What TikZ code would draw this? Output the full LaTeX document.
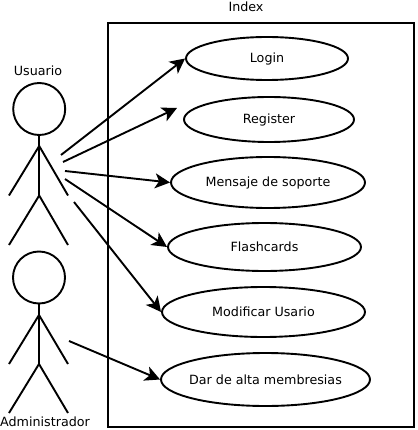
\documentclass[tikz,border=0pt]{standalone}
\usepackage{fontspec}
\setmainfont{DejaVu Sans}
\usetikzlibrary{arrows.meta,shapes.geometric}
\tikzset{
  usecase/.style={draw=black,line width=1.9pt,ellipse,inner sep=0pt,font=\fontsize{12.7}{15}\selectfont},
  lbl/.style={inner sep=0pt,font=\fontsize{12.7}{15}\selectfont},
  headc/.style={draw=black,line width=1.9pt,circle,inner sep=0pt,minimum size=52pt},
  limb/.style={draw=black,line width=1.9pt},
  assoc/.style={draw=black,line width=1.9pt,-{Stealth[length=15pt,width=15pt,inset=4pt]}},
  sysbox/.style={draw=black,line width=2pt}
}
\begin{document}
\begin{tikzpicture}[x=1pt,y=-1pt]
\useasboundingbox (0,0) rectangle (417,430);
\fill[white] (0,0) rectangle (417,430);
\node[sysbox,minimum width=306pt,minimum height=403pt,inner sep=0pt] (sys) at (260.5,225) {};
\node[lbl] (idx) at (246,7) {Index};
\node[lbl] (u) at (38,70.5) {Usuario};
\node[lbl] (ad) at (45,422) {Administrador};
\node[usecase,minimum width=162pt,minimum height=43pt] (login) at (267,58.5) {\makebox[0pt]{Login}};
\node[usecase,minimum width=170pt,minimum height=45pt] (reg) at (269,119.5) {\makebox[0pt]{Register}};
\node[usecase,minimum width=194pt,minimum height=51pt] (msg) at (268,182.5) {\makebox[0pt]{Mensaje de soporte}};
\node[usecase,minimum width=193pt,minimum height=48pt] (fla) at (264.5,247) {\makebox[0pt]{Flashcards}};
\node[usecase,minimum width=203pt,minimum height=50pt] (mod) at (263.5,312) {\makebox[0pt]{Modificar Usario}};
\node[usecase,minimum width=209pt,minimum height=53pt] (dar) at (265.5,379.5) {\makebox[0pt]{Dar de alta membresias}};
% actor 1
\node[headc] (h1) at (39.2,109) {};
\coordinate (hip1) at (39.2,195.5);
\coordinate (sh1) at (39.2,146);
\coordinate (la1) at (9,195.5);
\coordinate (ra1) at (68,195.5);
\coordinate (lf1) at (9,245);
\coordinate (rf1) at (68,245);
\draw[limb] (h1.south) -- (hip1);
\draw[limb] (la1) -- (sh1) -- (ra1);
\draw[limb] (lf1) -- (hip1) -- (rf1);
% actor 2
\node[headc] (h2) at (39,277.5) {};
\coordinate (hip2) at (39,364);
\coordinate (sh2) at (39,315);
\coordinate (la2) at (9,364);
\coordinate (ra2) at (68,364);
\coordinate (lf2) at (9,413);
\coordinate (rf2) at (68,413);
\draw[limb] (h2.south) -- (hip2);
\draw[limb] (la2) -- (sh2) -- (ra2);
\draw[limb] (lf2) -- (hip2) -- (rf2);
% connectors
\coordinate (a1) at (61,155);
\coordinate (a2) at (63,162);
\coordinate (a3) at (65,171);
\coordinate (a4) at (65,179);
\coordinate (a5) at (74,202);
\coordinate (a6) at (69,341);
\coordinate (t2) at (177,108);
\draw[assoc] (a1) -- (login.west);
\draw[assoc] (a2) -- (t2);
\draw[assoc] (a3) -- (msg.west);
\draw[assoc] (a4) -- (fla.west);
\draw[assoc] (a5) -- (mod.west);
\draw[assoc] (a6) -- (dar.west);
\end{tikzpicture}
\end{document}
